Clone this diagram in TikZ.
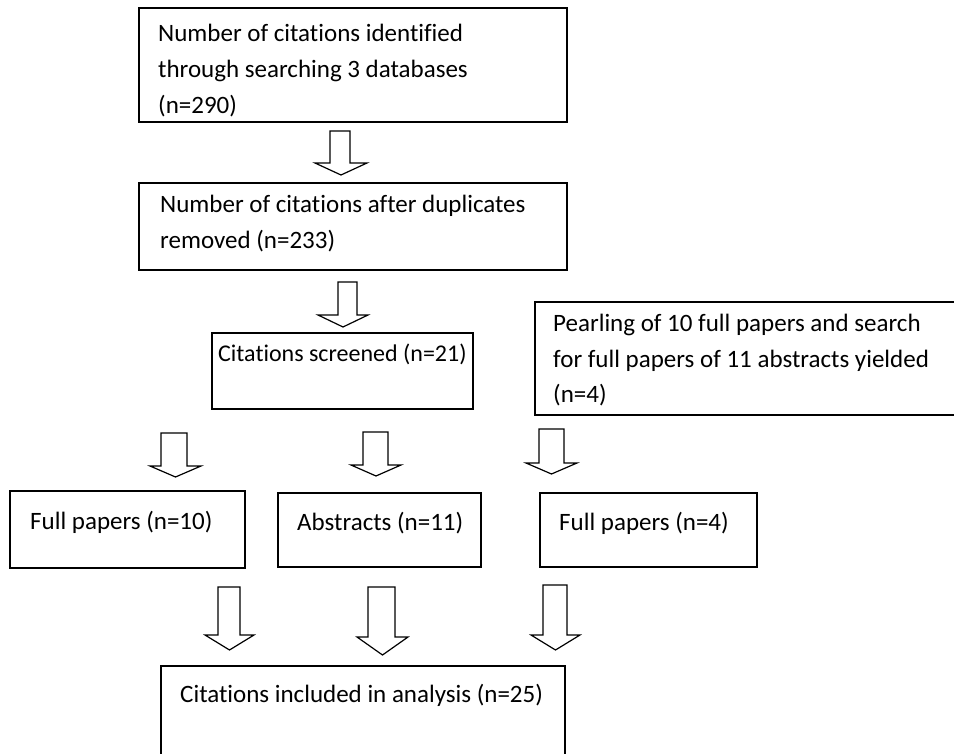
\documentclass[tikz,border=0pt]{standalone}
\usepackage{fontspec}
\setmainfont{Carlito}[Ligatures={NoCommon,NoContextual,NoRequired}]
\usetikzlibrary{fit}
\newcommand\blockarrow[7]{%
  \draw[barrow] (#1,#3) -- (#1,#6) -- (#4,#6) -- ({(#4+#5)/2},#7) -- (#5,#6) -- (#2,#6) -- (#2,#3) -- cycle;}
\begin{document}
\begin{tikzpicture}[x=1pt,y=-1pt,
  box/.style={draw, line width=1.5pt, inner sep=0pt},
  txt/.style={anchor=base west, inner sep=0pt, font=\fontsize{25}{36}\selectfont},
  barrow/.style={draw, line width=1.2pt, fill=white, line join=miter}]
\useasboundingbox (0,0) rectangle (954,754);
\clip (0,0) rectangle (954,754);
% boxes
\node[box, fit={(139,8) (567,122)}] (b1) {};
\node[box, fit={(139,183) (567,270)}] (b2) {};
\node[box, fit={(212,333) (473,409)}] (b3) {};
\node[box, fit={(535,302) (962,415)}] (b4) {};
\node[box, fit={(10,491) (245,568)}] (b5) {};
\node[box, fit={(278,493) (481,567)}] (b6) {};
\node[box, fit={(540,493) (757,567)}] (b7) {};
\node[box, fit={(161,666) (565,760)}] (b8) {};
% texts
\node[txt] (t1) at (158,42) {\begin{tabular}[t]{@{}l@{}}Number of citations identified\\through searching 3 databases\\(n=290)\end{tabular}};
\node[txt] (t2) at (160,213) {\begin{tabular}[t]{@{}l@{}}Number of citations after duplicates\\removed (n=233)\end{tabular}};
\node[txt, font=\fontsize{24}{36}\selectfont] (t3) at (218,361) {Citations screened (n=21)};
\node[txt] (t4) at (553,331) {\begin{tabular}[t]{@{}l@{}}Pearling of 10 full papers and search\\for full papers of 11 abstracts yielded\\(n=4)\end{tabular}};
\node[txt] (t5) at (30,529) {Full papers (n=10)};
\node[txt] (t6) at (297,530) {Abstracts (n=11)};
\node[txt] (t7) at (559,530) {Full papers (n=4)};
\node[txt] (t8) at (180,702) {Citations included in analysis (n=25)};
% block arrows
\blockarrow{330}{350}{131}{315}{367}{163}{175}
\blockarrow{338}{357}{282}{318}{368}{315}{327}
\blockarrow{161}{187}{433}{150}{201}{466}{477}
\blockarrow{363}{388}{432}{351}{401}{465}{476}
\blockarrow{539}{564}{429}{526}{577}{463}{474}
\blockarrow{218}{240}{587}{205}{254}{635}{650}
\blockarrow{368}{395}{587}{357}{408}{637}{655}
\blockarrow{543}{567}{585}{531}{580}{635}{650}
\end{tikzpicture}
\end{document}
